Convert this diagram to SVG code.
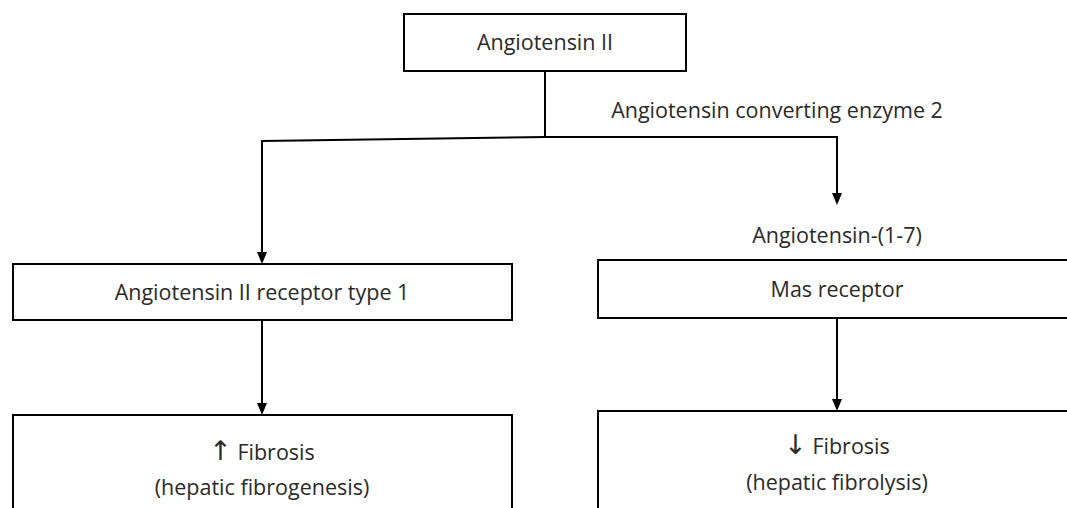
<svg xmlns="http://www.w3.org/2000/svg" width="1067" height="508" viewBox="0 0 1067 508">
<defs>
<style>
.box{fill:#fff;stroke:#000;stroke-width:2}
.t{font-family:"Open Sans","Noto Sans",sans-serif;font-size:21.5px;fill:#2a2a2a;text-anchor:middle}
.ar{font-family:"DejaVu Sans",sans-serif;font-size:27px}
.c{fill:none;stroke:#000;stroke-width:2}
</style>
</defs>
<rect width="1067" height="508" fill="#fff"/>
<g id="connectors">
<polyline class="c" points="545,71 545,137"/>
<polyline class="c" points="262,150 262,141 545,137 837,137 837,193"/>
<line class="c" x1="262" y1="141" x2="262" y2="252"/>
<line class="c" x1="262" y1="320" x2="262" y2="403"/>
<line class="c" x1="837" y1="318" x2="837" y2="399"/>
<path d="M832,193 L842,193 L837,205 Z"/>
<path d="M257,252 L267,252 L262,264 Z"/>
<path d="M257,403 L267,403 L262,415 Z"/>
<path d="M832,399 L842,399 L837,411 Z"/>
<text class="t" x="777" y="118">Angiotensin converting enzyme 2</text>
<text class="t" x="837" y="243">Angiotensin-(1-7)</text>
</g>
<g id="n-ang2">
<rect class="box" x="404" y="14" width="282" height="57"/>
<text class="t" x="545" y="50">Angiotensin II</text>
</g>
<g id="n-at1r">
<rect class="box" x="13" y="264" width="499" height="56"/>
<text class="t" x="262" y="300">Angiotensin II receptor type 1</text>
</g>
<g id="n-mas">
<rect class="box" x="598" y="260" width="470" height="58"/>
<text class="t" x="837" y="297">Mas receptor</text>
</g>
<g id="n-fib-up">
<rect class="box" x="13" y="415" width="499" height="100"/>
<text class="t" x="262" y="460"><tspan class="ar">↑</tspan> Fibrosis</text>
<text class="t" x="262" y="495">(hepatic fibrogenesis)</text>
</g>
<g id="n-fib-down">
<rect class="box" x="598" y="411" width="470" height="104"/>
<text class="t" x="837" y="454"><tspan class="ar">↓</tspan> Fibrosis</text>
<text class="t" x="837" y="490">(hepatic fibrolysis)</text>
</g>
</svg>
